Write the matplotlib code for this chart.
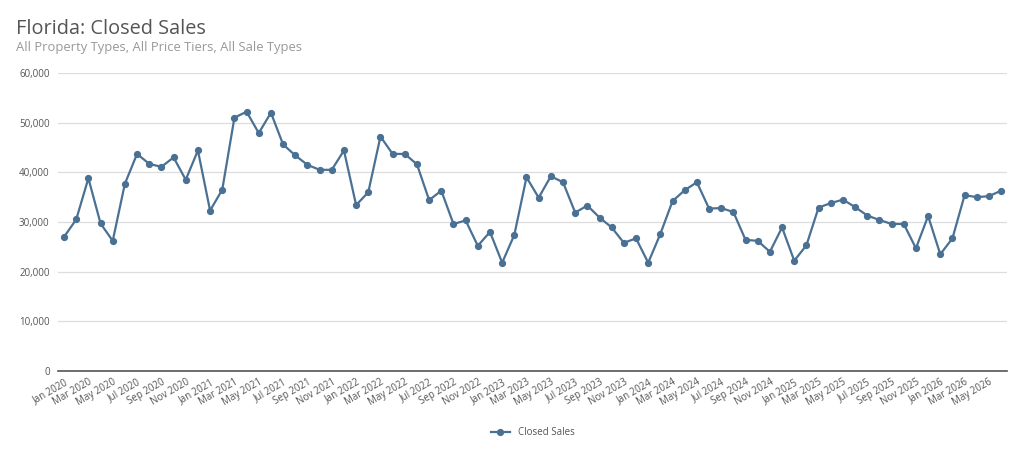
import matplotlib
matplotlib.use("Agg")
import matplotlib.pyplot as plt
from matplotlib.ticker import FuncFormatter
import pandas as pd

plt.rcParams['font.family'] = ['Open Sans', 'DejaVu Sans']

# monthly closed sales, Jan 2020 .. Jun 2026
months = pd.date_range("2020-01-01", "2026-06-01", freq="MS")
closed_sales = [
    27000, 30500, 38800, 29700, 26200, 37700, 43700, 41700, 41100, 43000, 38500, 44400,
    32300, 36500, 51000, 52200, 47900, 52000, 45600, 43400, 41500, 40500, 40500, 44400,
    33400, 36000, 47200, 43700, 43700, 41600, 34400, 36300, 29600, 30300, 25200, 28000,
    21800, 27400, 39000, 34900, 39200, 38000, 31900, 33300, 30900, 28900, 25800, 26700,
    21800, 27600, 34200, 36400, 38000, 32700, 32800, 32000, 26400, 26200, 24000, 28900,
    22200, 25300, 32900, 33800, 34500, 33000, 31300, 30400, 29600, 29600, 24700, 31200,
    23500, 26700, 35400, 35000, 35200, 36300,
]
month_labels = [d.strftime("%b %Y") for d in months]
y_ticks = [0, 10000, 20000, 30000, 40000, 50000, 60000]

line_color = "#4a7194"

fig = plt.figure(figsize=(10.24, 4.69), dpi=100)
ax = fig.add_axes([0.0566, 0.209, 0.927, 0.6354])

x = list(range(len(months)))
ax.plot(x, closed_sales, color=line_color, lw=1.6, marker="o", ms=4.2,
        label="Closed Sales")

ax.set_xlim(-0.5, len(months) - 0.5)
ax.set_ylim(0, 60000)
ax.set_yticks(y_ticks)
ax.yaxis.set_major_formatter(FuncFormatter(lambda v, p: f"{int(v):,}"))
ax.set_xticks(x[::2])
ax.set_xticklabels(month_labels[::2], rotation=30, ha="right",
                   rotation_mode="anchor", fontsize=7, color="#555555")
ax.tick_params(axis="y", labelsize=7, colors="#555555", length=0, pad=6)
ax.tick_params(axis="x", length=0, pad=4)

ax.grid(axis="y", color="#dddddd", lw=0.9)
ax.set_axisbelow(True)
for s in ["top", "right", "left"]:
    ax.spines[s].set_visible(False)
ax.spines["bottom"].set_color("#555555")
ax.spines["bottom"].set_linewidth(1.2)

fig.text(0.0156, 0.938, "Florida: Closed Sales", fontsize=14.3, color="#555555",
         va="center")
fig.text(0.0156, 0.899, "All Property Types, All Price Tiers, All Sale Types",
         fontsize=9.4, color="#999999", va="center")

ax.legend(loc="center", bbox_to_anchor=(0.5, -0.208), frameon=False, fontsize=7,
          handlelength=2.0, labelcolor="#555555")

fig.savefig("out.png", dpi=100, facecolor="white")
